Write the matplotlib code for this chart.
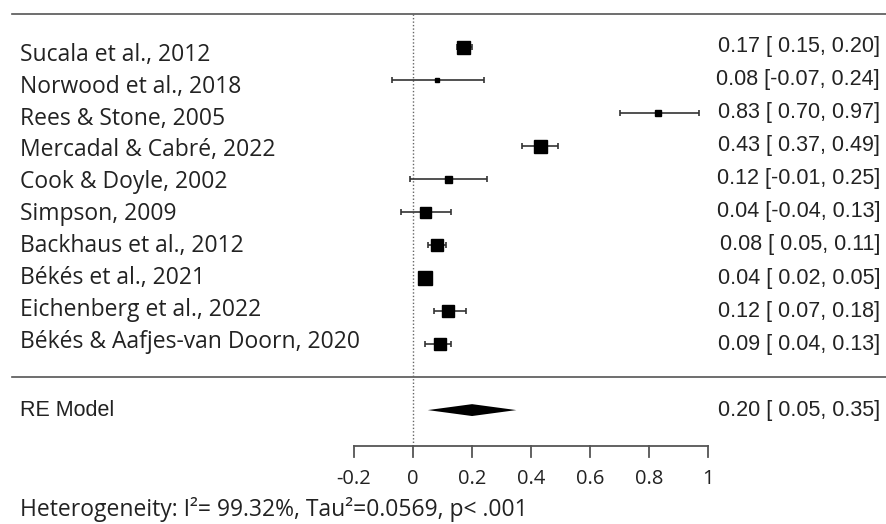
import numpy as np
import matplotlib
matplotlib.use("Agg")
import matplotlib.pyplot as plt

# -------------------------------
# Data
# -------------------------------
studies = [
    "Sucala et al., 2012",
    "Norwood et al., 2018",
    "Rees & Stone, 2005",
    "Mercadal & Cabré, 2022",
    "Cook & Doyle, 2002",
    "Simpson, 2009",
    "Backhaus et al., 2012",
    "Békés et al., 2021",
    "Eichenberg et al., 2022",
    "Békés & Aafjes-van Doorn, 2020",
]
est = [0.17, 0.08, 0.83, 0.43, 0.12, 0.04, 0.08, 0.04, 0.12, 0.09]
lo = [0.15, -0.07, 0.70, 0.37, -0.01, -0.04, 0.05, 0.02, 0.07, 0.04]
hi = [0.20, 0.24, 0.97, 0.49, 0.25, 0.13, 0.11, 0.05, 0.18, 0.13]
# relative weight -> marker size
weight = [13, 5, 6, 13, 7, 11, 12, 14, 12, 12]

re_est, re_lo, re_hi = 0.20, 0.05, 0.35
xticks = [-0.2, 0, 0.2, 0.4, 0.6, 0.8, 1]
xtick_labels = ["-0.2", "0", "0.2", "0.4", "0.6", "0.8", "1"]
het_text = "Heterogeneity: I²= 99.32%, Tau²=0.0569, p< .001"

# -------------------------------
# Layout
# -------------------------------
LEFT_FONT = "Open Sans"
RIGHT_FONT = "Liberation Sans"
TXT = "#222222"
LINE = "#555555"

fig = plt.figure(figsize=(8.86, 5.24), dpi=100)
ax = fig.add_axes([0, 0, 1, 1])
ax.set_xlim(-1.4, 1.603)
ax.set_ylim(-4.45, 11.42)
ax.axis("off")

k = len(studies)
rows = np.arange(k, 0, -1)

# header / separator lines
ax.plot([-1.36, 1.603], [11, 11], color=LINE, lw=1.2)
ax.plot([-1.36, 1.603], [0, 0], color=LINE, lw=1.2)

# reference line at 0
ax.plot([0, 0], [11, -2.09], color="#666666", lw=1, ls=(0, (1, 1.5)))

# study estimates
for r, e, l, h, w in zip(rows, est, lo, hi, weight):
    ax.errorbar(e, r, xerr=[[e - l], [h - e]], fmt="none", ecolor="#333333",
                elinewidth=1.2, capsize=2.4, capthick=1.2)
    ax.plot(e, r, marker="s", ms=w * 0.72, color="black", mec="black")

# RE diamond
dh = 0.18
ax.fill([re_lo, re_est, re_hi, re_est], [-1, -1 + dh, -1, -1 - dh],
        color="black", lw=0)

# labels left
for r, s in zip(rows, studies):
    ax.text(-1.332, 1.06 + 0.967 * (r - 1), s, fontsize=16.5, family=LEFT_FONT,
            color=TXT, va="center", ha="left")
ax.text(-1.332, -1, "RE Model", fontsize=15.5, family=RIGHT_FONT,
        color=TXT, va="center", ha="left")

# labels right
for r, e, l, h in zip(rows, est, lo, hi):
    lab = "%.2f [%s%.2f, %.2f]" % (e, "" if l < 0 else " ", l, h)
    ax.text(1.583, r, lab, fontsize=15.5, family=RIGHT_FONT, color=TXT,
            va="center", ha="right")
ax.text(1.583, -1, "%.2f [ %.2f, %.2f]" % (re_est, re_lo, re_hi), fontsize=15.5,
        family=RIGHT_FONT, color=TXT, va="center", ha="right")

# x axis
ax_y = -2.09
ax.plot([xticks[0], xticks[-1]], [ax_y, ax_y], color=LINE, lw=1.3)
for t, tl in zip(xticks, xtick_labels):
    ax.plot([t, t], [ax_y, ax_y - 0.33], color=LINE, lw=1.3)
    ax.text(t, -3.08, tl, fontsize=14.5, family=LEFT_FONT, color=TXT,
            ha="center", va="center")

ax.text(-1.332, -4.0, het_text, fontsize=16.5, family=LEFT_FONT, color=TXT,
        ha="left", va="center")

plt.savefig("out.png", dpi=100)
